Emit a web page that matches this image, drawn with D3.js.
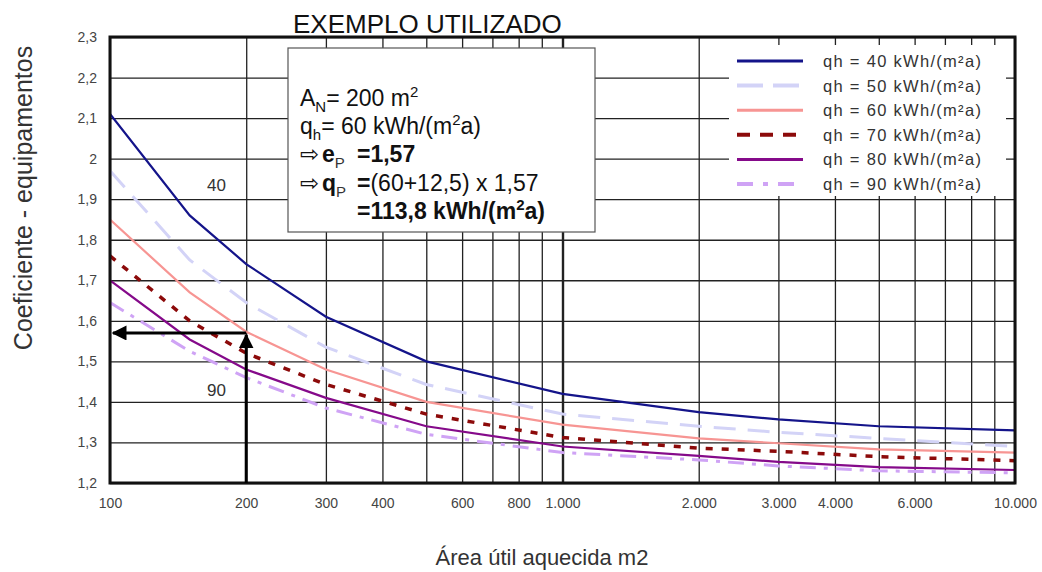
<!DOCTYPE html>
<html>
<head>
<meta charset="utf-8">
<script src="https://cdn.jsdelivr.net/npm/d3@7"></script>
<style>
  body { margin: 0; background: #fff; }
  svg { font-family: "Liberation Sans", Arial, sans-serif; }
</style>
</head>
<body>
<svg id="chart1" width="1042" height="572"></svg>
<script>
'use strict';

// area (m2) where the curves were read
var areas = [100, 150, 200, 300, 500, 1000, 2000, 3000, 5000, 10000];
var q40 = [2.11, 1.86, 1.74, 1.61, 1.50, 1.42, 1.375, 1.357, 1.34, 1.33];
var q50 = [1.97, 1.75, 1.645, 1.535, 1.443, 1.37, 1.34, 1.325, 1.31, 1.29];
var q60 = [1.85, 1.67, 1.573, 1.48, 1.40, 1.344, 1.31, 1.298, 1.283, 1.275];
var q70 = [1.76, 1.60, 1.52, 1.443, 1.37, 1.312, 1.286, 1.278, 1.265, 1.255];
var q80 = [1.70, 1.554, 1.48, 1.41, 1.34, 1.29, 1.267, 1.252, 1.239, 1.232];
var q90 = [1.645, 1.525, 1.46, 1.385, 1.32, 1.275, 1.257, 1.242, 1.23, 1.225];
var seriesNames = ['qh = 40 kWh/(m²a)', 'qh = 50 kWh/(m²a)', 'qh = 60 kWh/(m²a)',
	'qh = 70 kWh/(m²a)', 'qh = 80 kWh/(m²a)', 'qh = 90 kWh/(m²a)'];

var xLabels = [100, 200, 300, 400, 600, 800, 1000, 2000, 3000, 4000, 6000, 10000];
var yTicks = [1.2, 1.3, 1.4, 1.5, 1.6, 1.7, 1.8, 1.9, 2.0, 2.1, 2.2, 2.3];

// example: A_N = 200 m2 on the qh = 60 curve
var exampleArea = 200;
var exampleValue = 1.57;

var styles = [
	{ color: '#14148a', width: 2.2, dash: null },
	{ color: '#d3d3f7', width: 3, dash: '22,12' },
	{ color: '#f79593', width: 2.2, dash: null },
	{ color: '#8c0a0a', width: 3.5, dash: '7,9' },
	{ color: '#850a8a', width: 2.2, dash: null },
	{ color: '#cfa3f5', width: 3, dash: '16,8,4,8' }
];

var svg = d3.select('#chart1');
var pLeft = 110, pRight = 1015, pTop = 37, pBottom = 483;

var x = d3.scaleLog().domain([100, 10000]).range([pLeft, pRight]);
var y = d3.scaleLinear().domain([1.2, 2.3]).range([pBottom, pTop]);

// grid lines
var gridX = d3.range(100, 1000, 100).concat(d3.range(1000, 10001, 1000));
var g = svg.append('g');

g.append('rect')
	.attr('x', pLeft).attr('y', pTop)
	.attr('width', pRight - pLeft).attr('height', pBottom - pTop)
	.attr('fill', '#fff');

g.append('g')
	.attr('transform', 'translate(0,' + pBottom + ')')
	.call(d3.axisBottom(x).tickValues(gridX).tickSize(-(pBottom - pTop)).tickFormat(''))
	.call(function(a) {
		a.select('.domain').remove();
		a.selectAll('line')
			.attr('stroke', '#222')
			.attr('stroke-width', function(d) { return d === 1000 ? 2.4 : 1.3; });
	});

g.append('g')
	.attr('transform', 'translate(' + pLeft + ',0)')
	.call(d3.axisLeft(y).tickValues(yTicks).tickSize(-(pRight - pLeft)).tickFormat(''))
	.call(function(a) {
		a.select('.domain').remove();
		a.selectAll('line').attr('stroke', '#222').attr('stroke-width', 1.3);
	});

// tick labels
var fmtX = function(d) { return d3.format(',')(d).replace(/,/g, '.'); };
var fmtY = function(d) { return d3.format('.1~f')(d).replace('.', ','); };

svg.append('g')
	.attr('transform', 'translate(0,' + (pBottom + 3) + ')')
	.call(d3.axisBottom(x).tickValues(xLabels).tickSize(0).tickPadding(12).tickFormat(fmtX))
	.call(function(a) {
		a.select('.domain').remove();
		a.selectAll('text')
			.attr('font-family', '"Liberation Sans Narrow", "Liberation Sans", Arial, sans-serif')
			.attr('font-size', 14).attr('fill', '#444');
	});

svg.append('g')
	.attr('transform', 'translate(' + (pLeft - 13) + ',0)')
	.call(d3.axisLeft(y).tickValues(yTicks).tickSize(0).tickPadding(0).tickFormat(fmtY))
	.call(function(a) {
		a.select('.domain').remove();
		a.selectAll('text')
			.attr('font-family', '"Liberation Sans Narrow", "Liberation Sans", Arial, sans-serif')
			.attr('font-size', 14).attr('fill', '#444');
	});

// curves
var allSeries = [q40, q50, q60, q70, q80, q90];
var line = d3.line()
	.x(function(d, i) { return x(areas[i]); })
	.y(function(d) { return y(d); });

svg.append('clipPath').attr('id', 'plotclip')
	.append('rect').attr('x', pLeft).attr('y', pTop)
	.attr('width', pRight - pLeft).attr('height', pBottom - pTop);

var curves = svg.append('g').attr('clip-path', 'url(#plotclip)');
allSeries.forEach(function(vals, k) {
	var st = styles[k];
	curves.append('path')
		.datum(vals)
		.attr('d', line)
		.attr('fill', 'none')
		.attr('stroke', st.color)
		.attr('stroke-width', st.width)
		.attr('stroke-dasharray', st.dash);
});

// plot frame
svg.append('rect')
	.attr('x', pLeft).attr('y', pTop)
	.attr('width', pRight - pLeft).attr('height', pBottom - pTop)
	.attr('fill', 'none').attr('stroke', '#111').attr('stroke-width', 3);

// curve labels
svg.append('text').attr('x', x(172)).attr('y', y(1.92))
	.attr('text-anchor', 'middle').attr('font-size', 17).attr('fill', '#333').text('40');
svg.append('text').attr('x', x(172)).attr('y', y(1.415))
	.attr('text-anchor', 'middle').attr('font-size', 17).attr('fill', '#333').text('90');

// example arrows
svg.append('defs').append('marker')
	.attr('id', 'arrow')
	.attr('viewBox', '0 0 10 10')
	.attr('refX', 9).attr('refY', 5)
	.attr('markerWidth', 5).attr('markerHeight', 5)
	.attr('orient', 'auto')
	.append('path').attr('d', 'M0,0 L10,5 L0,10 Z').attr('fill', '#000');

svg.append('line')
	.attr('x1', x(exampleArea)).attr('y1', pBottom)
	.attr('x2', x(exampleArea)).attr('y2', y(exampleValue) + 2)
	.attr('stroke', '#000').attr('stroke-width', 3)
	.attr('marker-end', 'url(#arrow)');
svg.append('line')
	.attr('x1', x(exampleArea)).attr('y1', y(exampleValue))
	.attr('x2', pLeft + 3).attr('y2', y(exampleValue))
	.attr('stroke', '#000').attr('stroke-width', 3)
	.attr('marker-end', 'url(#arrow)');

// legend
var leg = svg.append('g');
leg.append('rect').attr('x', 729).attr('y', 45).attr('width', 277).attr('height', 151).attr('fill', '#fff');
seriesNames.forEach(function(name, k) {
	var st = styles[k];
	var cy = 61 + k * 24.6;
	leg.append('line')
		.attr('x1', 737).attr('x2', 803).attr('y1', cy).attr('y2', cy)
		.attr('stroke', st.color)
		.attr('stroke-width', k === 1 || k === 3 || k === 5 ? 4 : 3)
		.attr('stroke-dasharray', st.dash === null ? null : (k === 1 ? '26,10' : k === 3 ? '13,10' : '16,10,5,10'));
	leg.append('text')
		.attr('x', 823).attr('y', cy + 6)
		.attr('font-size', 16.5).attr('fill', '#333')
		.attr('letter-spacing', 1.3)
		.text(name);
});

// example box
svg.append('text').attr('x', 293).attr('y', 33)
	.attr('font-size', 26).attr('fill', '#111').text('EXEMPLO UTILIZADO');

var box = svg.append('g');
box.append('rect').attr('x', 288).attr('y', 48).attr('width', 307).attr('height', 184)
	.attr('fill', '#fff').attr('stroke', '#555').attr('stroke-width', 1.2);

var fs = 23, sub = 15;
var t1 = box.append('text').attr('x', 300).attr('y', 106).attr('font-size', fs).attr('fill', '#111');
t1.append('tspan').text('A');
t1.append('tspan').attr('font-size', sub).attr('dy', 6).text('N');
t1.append('tspan').attr('dy', -6).text('= 200 m');
t1.append('tspan').attr('font-size', sub).attr('dy', -9).text('2');

var t2 = box.append('text').attr('x', 300).attr('y', 134).attr('font-size', fs).attr('fill', '#111');
t2.append('tspan').text('q');
t2.append('tspan').attr('font-size', sub).attr('dy', 6).text('h');
t2.append('tspan').attr('dy', -6).text('= 60 kWh/(m');
t2.append('tspan').attr('font-size', sub).attr('dy', -9).text('2');
t2.append('tspan').attr('dy', 9).text('a)');

var t3 = box.append('text').attr('x', 300).attr('y', 162).attr('font-size', fs).attr('fill', '#111');
t3.append('tspan').attr('font-size', 23).attr('font-family', '"DejaVu Sans", sans-serif').text('⇨');
t3.append('tspan').attr('x', 322).attr('font-weight', 'bold').text('e');
t3.append('tspan').attr('font-size', sub).attr('fill', '#333').attr('dy', 6).text('P');
t3.append('tspan').attr('x', 357).attr('dy', -6).attr('font-weight', 'bold').text('=1,57');

var t4 = box.append('text').attr('x', 300).attr('y', 191).attr('font-size', fs).attr('fill', '#111');
t4.append('tspan').attr('font-size', 23).attr('font-family', '"DejaVu Sans", sans-serif').text('⇨');
t4.append('tspan').attr('x', 322).attr('font-weight', 'bold').text('q');
t4.append('tspan').attr('font-size', sub).attr('fill', '#333').attr('dy', 6).text('P');
t4.append('tspan').attr('x', 357).attr('dy', -6).attr('font-weight', 'bold').text('=');
t4.append('tspan').text('(60+12,5) x 1,57');

var t5 = box.append('text').attr('x', 357).attr('y', 219).attr('font-size', fs)
	.attr('font-weight', 'bold').attr('fill', '#111');
t5.append('tspan').text('=113,8 kWh/(m');
t5.append('tspan').attr('font-size', sub).attr('dy', -9).text('2');
t5.append('tspan').attr('dy', 9).text('a)');

// axis titles
svg.append('text')
	.attr('x', 542).attr('y', 565)
	.attr('text-anchor', 'middle').attr('font-size', 22).attr('fill', '#333')
	.text('Área útil aquecida m2');

svg.append('text')
	.attr('transform', 'translate(32,' + 198 + ') rotate(-90)')
	.attr('text-anchor', 'middle').attr('font-size', 25).attr('fill', '#333')
	.text('Coeficiente - equipamentos');
</script>
</body>
</html>
